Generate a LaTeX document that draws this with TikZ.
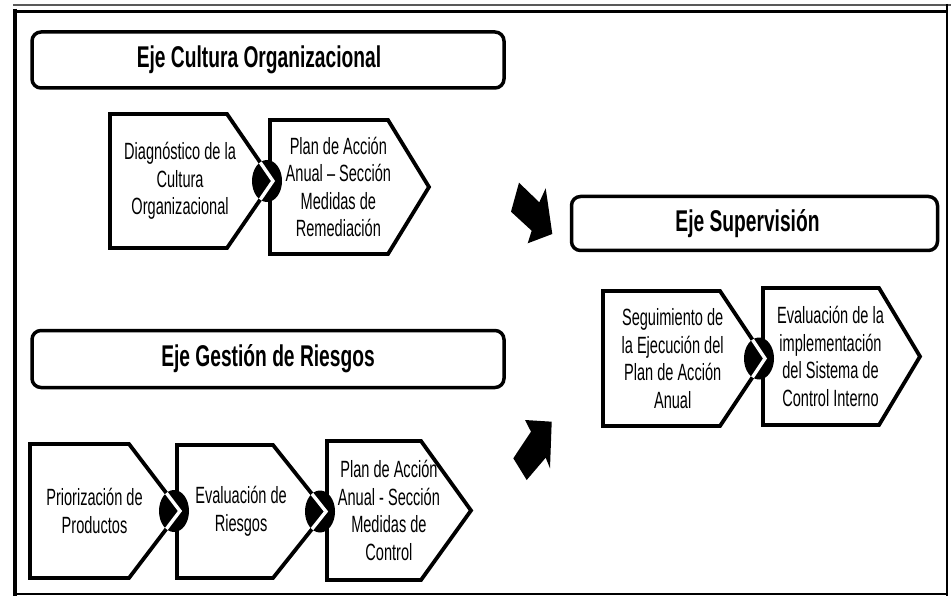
\documentclass[tikz,border=0pt]{standalone}
\usepackage{fontspec}
\newfontfamily\axisfont[FakeStretch=0.64]{Liberation Sans}
\newfontfamily\stepfont[FakeStretch=0.62]{Liberation Sans}

% #1 name, #2 left, #3 top, #4 bottom, #5 end of flat top, #6 tip x, #7 text
\newcommand\chevbox[7]{%
  \coordinate (#1-nw) at (#2,#3);
  \coordinate (#1-ne) at (#5,#3);
  \coordinate (#1-tip) at (#6,{(#3+#4)/2});
  \coordinate (#1-se) at (#5,#4);
  \coordinate (#1-sw) at (#2,#4);
  \draw[chevline] (#1-nw) -- (#1-ne) -- (#1-tip) -- (#1-se) -- (#1-sw) -- cycle;
  \node[chevtext] (#1) at ({#2+0.43*(#6-#2)},{(#3+#4)/2}) {#7};
}

% black joint disc over the tip of chevron #1, with the tip outline shown in white
\newcommand\chevjoint[1]{%
  \path (#1-tip) ++(-6,0) coordinate (#1-joint);
  \fill[joint] (#1-joint) ellipse [x radius=15pt, y radius=21pt];
  \begin{scope}
    \clip (#1-joint) ellipse [x radius=15pt, y radius=21pt];
    \draw[jointmark] (#1-ne) -- (#1-tip) -- (#1-se);
  \end{scope}
}

\begin{document}
\begin{tikzpicture}[x=1pt,y=-1pt,
  axisbox/.style={draw, line width=3.5pt, rounded corners=9pt, inner sep=0pt,
    font=\axisfont\bfseries\fontsize{30}{34}\selectfont},
  chevline/.style={draw, line width=3.8pt, line join=miter, fill=white},
  chevtext/.style={font=\stepfont\fontsize{23.5}{27.5}\selectfont, align=center, inner sep=0pt},
  joint/.style={fill=black},
  jointmark/.style={draw=white, line width=3.4pt, line join=miter},
  blockarrow/.style={fill=black}
]
\useasboundingbox (0,0) rectangle (951,596);

% outer frame
\draw[line width=1.2pt, black!65] (13,5) -- (951,5);
\draw[line width=3pt] (14,11.5) -- (947,11.5);
\draw[line width=4pt] (15,9) -- (15,596);
\draw[line width=2pt] (947,4) -- (947,596);
\draw[line width=2pt] (13,593.5) -- (947,593.5);

% axis headers (titles sit slightly left of the box centre)
\node[axisbox, minimum width=472pt, minimum height=56pt] (cultura) at (268,60) {Eje Cultura Organizacional\hspace*{18pt}};
\node[axisbox, minimum width=472pt, minimum height=57pt] (riesgos) at (268,359) {Eje Gestión de Riesgos};
\node[axisbox, minimum width=366pt, minimum height=54pt] (supervision) at (754.5,223.5) {Eje Supervisión\hspace*{14pt}};

% culture axis steps
\chevbox{diag}{110}{114}{248}{227}{273}{Diagnóstico de la\\Cultura\\Organizacional}
\chevbox{remed}{270}{120}{254}{388}{429}{Plan de Acción\\Anual – Sección\\Medidas de\\Remediación}
\chevjoint{diag}

% risk management axis steps
\chevbox{prior}{30}{444}{578}{129}{180}{Priorización de\\Productos}
\chevbox{evalr}{177}{445}{578}{273}{326}{Evaluación de\\Riesgos}
\chevbox{control}{327}{441}{580}{421}{471}{Plan de Acción\\Anual - Sección\\Medidas de\\Control}
\chevjoint{prior}
\chevjoint{evalr}

% supervision axis steps
\chevbox{segui}{603}{291}{426}{720}{765}{Seguimiento de\\la Ejecución del\\Plan de Acción\\Anual}
\chevbox{implem}{763}{288}{425}{879}{920}{Evaluación de la\\implementación\\del Sistema de\\Control Interno}
\chevjoint{segui}

% block arrows towards the supervision axis
\fill[blockarrow] (519,182.7) -- (539.3,202.3) -- (545.7,188.3) -- (552.3,234)
  -- (527.7,243.3) -- (531.7,230.7) -- (511,211.7) -- cycle;
\fill[blockarrow] (525,420) -- (551.7,421.7) -- (550,468.3) -- (545.7,457.7)
  -- (526.7,480) -- (513.3,458.3) -- (531,431.7) -- cycle;
\end{tikzpicture}
\end{document}
